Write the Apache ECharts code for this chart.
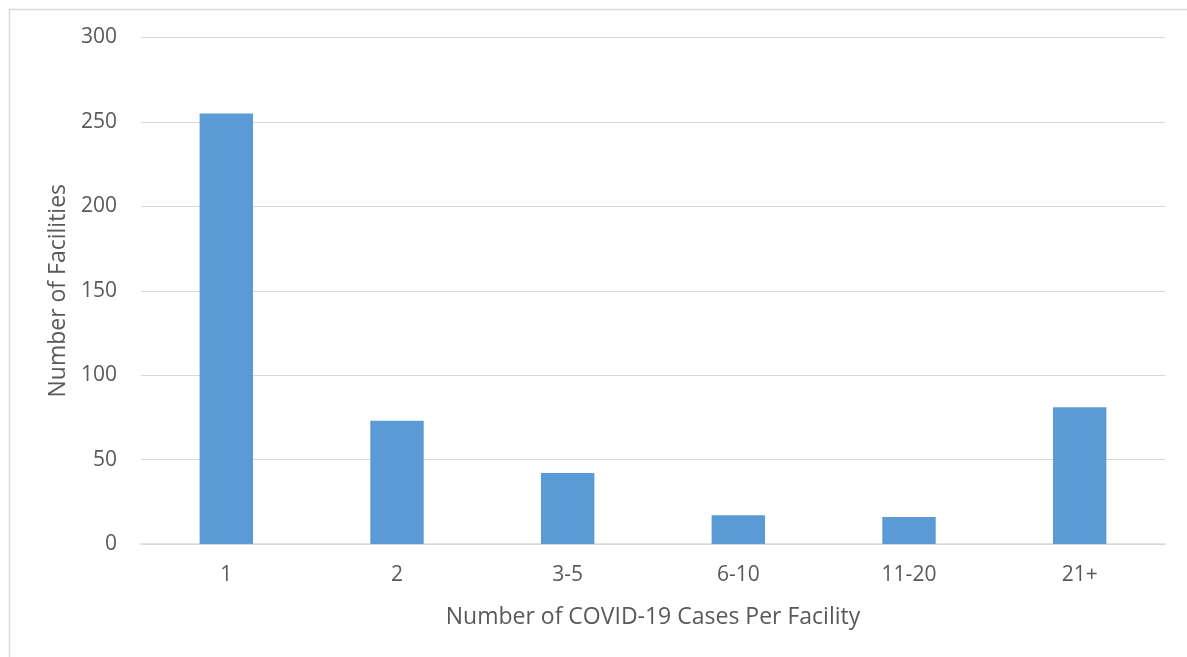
<!DOCTYPE html>
<html>
<head>
<meta charset="utf-8">
<script src="https://cdn.jsdelivr.net/npm/echarts@6/dist/echarts.min.js"></script>
<style>
html,body{margin:0;padding:0;background:#fff;}
#c{width:1187px;height:657px;}
</style>
</head>
<body>
<div id="c"></div>
<script>
const categories = ['1', '2', '3-5', '6-10', '11-20', '21+'];
const facilities = [255, 73, 42, 17, 16, 81];
const yTicks = [0, 50, 100, 150, 200, 250, 300];
const xTitle = 'Number of COVID-19 Cases Per Facility';
const yTitle = 'Number of Facilities';

const font = '"Open Sans", "Liberation Sans", sans-serif';
const chart = echarts.init(document.getElementById('c'), null, {renderer: 'canvas'});
chart.setOption({
  backgroundColor: '#fff',
  animation: false,
  graphic: [{
    type: 'rect', left: 7, top: 7, z: -1,
    shape: {width: 1300, height: 800},
    style: {fill: 'none', stroke: '#d9d9d9', lineWidth: 1.5}
  }],
  grid: {left: 141, right: 22, top: 37.5, bottom: 113},
  xAxis: {
    type: 'category',
    data: categories,
    name: xTitle,
    nameLocation: 'middle',
    nameGap: 62,
    nameTextStyle: {color: '#595959', fontSize: 23, fontFamily: font},
    axisLine: {lineStyle: {color: '#d9d9d9', width: 1.5}},
    axisTick: {show: false},
    axisLabel: {color: '#595959', fontSize: 21, fontFamily: font, margin: 21}
  },
  yAxis: {
    type: 'value',
    min: yTicks[0],
    max: yTicks[yTicks.length - 1],
    interval: 50,
    name: yTitle,
    nameLocation: 'middle',
    nameGap: 68,
    nameTextStyle: {color: '#595959', fontSize: 23, fontFamily: font},
    axisLine: {show: false},
    axisTick: {show: false},
    axisLabel: {color: '#595959', fontSize: 21, fontFamily: font, margin: 24},
    splitLine: {lineStyle: {color: '#d9d9d9', width: 1}}
  },
  series: [{
    type: 'bar',
    data: facilities,
    barCategoryGap: '68.7%',
    itemStyle: {color: '#5b9bd5'}
  }]
});
</script>
</body>
</html>
